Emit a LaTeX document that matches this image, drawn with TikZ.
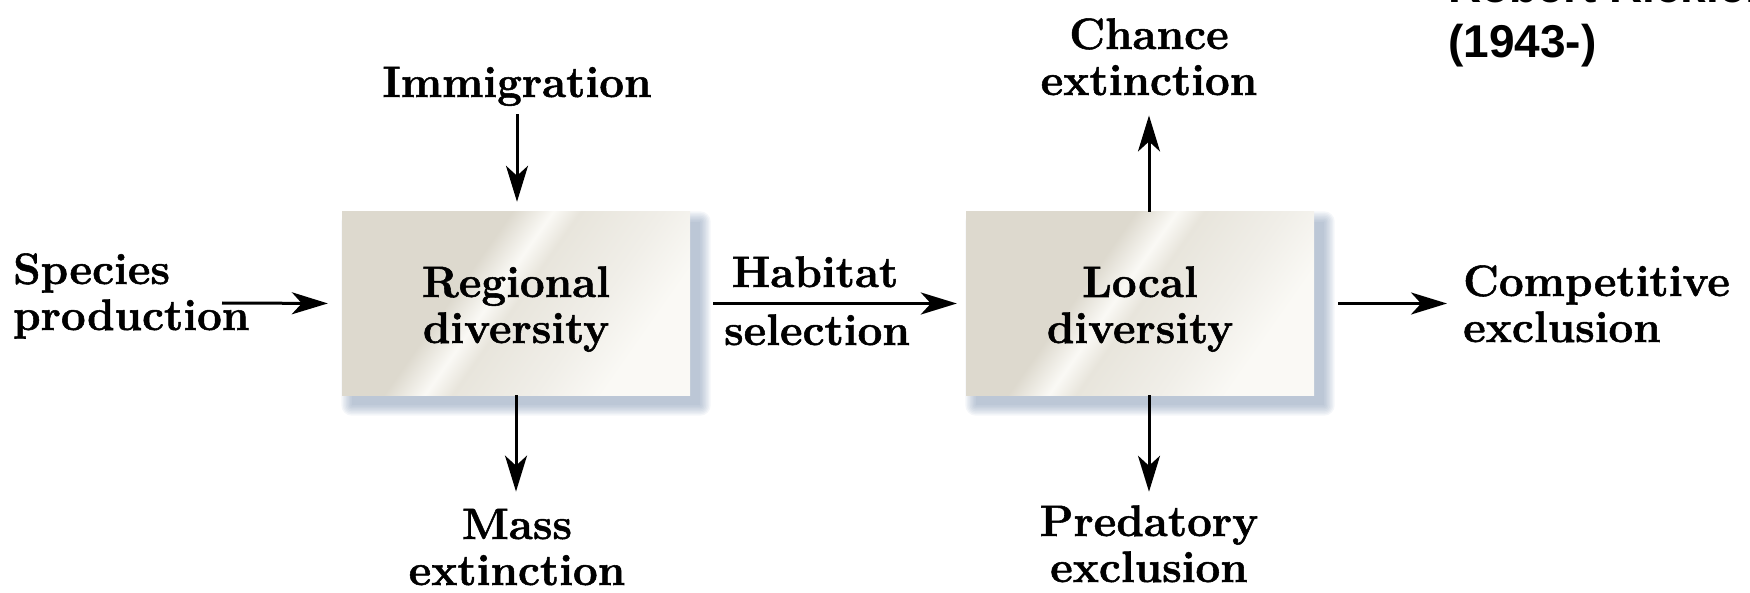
\documentclass[tikz,border=0pt]{standalone}
\usepackage{fontspec}
\setmainfont{Latin Modern Roman}[BoldFeatures={FakeBold=1.2}]
\newfontfamily\arialfont{Liberation Sans}
\usetikzlibrary{arrows.meta,calc}
\definecolor{bbeige}{RGB}{221,217,206}
\definecolor{bmid}{RGB}{232,229,220}
\definecolor{blight}{RGB}{240,238,232}
\definecolor{bsheen}{RGB}{250,249,245}
\definecolor{shadowc}{RGB}{110,135,170}
\pgfdeclarehorizontalshading{sheen}{100bp}{color(0bp)=(bbeige); color(25bp)=(bbeige); color(40bp)=(bbeige); color(46bp)=(bsheen); color(50bp)=(bmid); color(62bp)=(blight); color(72bp)=(bsheen); color(100bp)=(bsheen)}
\pgfdeclarelayer{bglayer}
\pgfdeclarelayer{shadowlayer}
\pgfsetlayers{bglayer,shadowlayer,main}
\begin{document}
\begin{tikzpicture}[x=1pt,y=-1pt,
  lbl/.style={font=\fontsize{44}{46}\selectfont\bfseries, inner sep=0pt, align=center},
  namefont/.style={font=\arialfont\bfseries\fontsize{46}{55}\selectfont, inner sep=0pt, anchor=base west},
  divbox/.style={minimum width=348pt, minimum height=183pt, inner sep=0pt, shading=sheen, shading angle=-35},
  arr/.style={line width=3pt, -{Stealth[length=36pt,width=22pt,inset=10pt]}}]
\begin{pgfonlayer}{bglayer}
  \fill[white] (0,0) rectangle (1750,593);
\end{pgfonlayer}
\useasboundingbox (0,0) rectangle (1750,593);
\clip (0,0) rectangle (1750,593);

% boxes
\node[divbox] (reg) at (516,303.5) {};
\node[divbox] (loc) at (1140,303.5) {};

\begin{pgfonlayer}{shadowlayer}
  \foreach \b in {reg,loc}{
    \foreach \k in {0,...,7}{
      \fill[shadowc, opacity=0.07, rounded corners=1.5*\k pt]
        ($(\b.north west)+(10-1.5*\k,10-1.5*\k)$) rectangle ($(\b.south east)+(10+1.5*\k,10+1.5*\k)$);
    }
  }
\end{pgfonlayer}

% labels (base anchor = baseline of the last line)
\node[lbl, anchor=base] (regt) at (516,343) {Regional\\diversity};
\node[lbl, anchor=base] (loct) at (1140,343) {Local\\diversity};
\node[lbl, anchor=base] (imm) at (517,97) {Immigration};
\node[lbl, anchor=base] (mass) at (517,585) {Mass\\extinction};
\node[lbl, anchor=base west, align=left] (sp) at (13,330) {Species\\production};
\node[lbl, anchor=base] (hab) at (815,287) {Habitat};
\node[lbl, anchor=base] (sel) at (817,345) {selection};
\node[lbl, anchor=base west, align=left] (comp) at (1463,342) {Competitive\\exclusion};
\node[lbl, anchor=base] (ch) at (1149,95) {Chance\\extinction};
\node[lbl, anchor=base] (pred) at (1149,582) {Predatory\\exclusion};

\node[namefont] (rr) at (1448,3) {Robert Ricklefs};
\node[namefont] (yr) at (1448,58) {(1943-)};

% connectors
\coordinate (spA) at (222,303);
\draw[arr, shorten >=14pt] (spA) -- (reg.west);
\draw[arr, shorten <=8pt, shorten >=10pt] (imm.south) -- (imm.south |- reg.north);
\draw[arr, shorten >=17pt] (reg.south) -- (reg.south |- mass.north);
\draw[arr, shorten <=23pt, shorten >=9pt] (reg.east) -- (loc.west);
\draw[arr, shorten >=20pt] (loc.north -| ch.south) -- (ch.south);
\draw[arr, shorten >=13.5pt] (loc.south -| pred.north) -- (pred.north);
\draw[arr, shorten <=24pt, shorten >=16pt] (loc.east) -- (loc.east -| comp.west);
\end{tikzpicture}
\end{document}
